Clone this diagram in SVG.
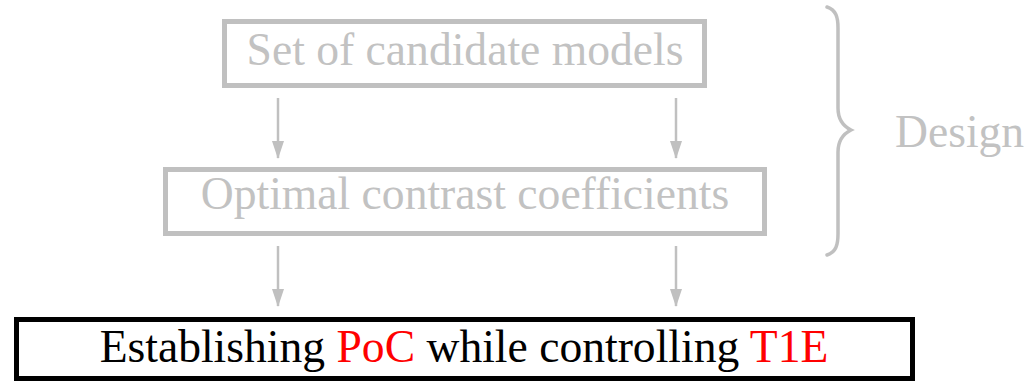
<svg xmlns="http://www.w3.org/2000/svg" width="1025" height="381" viewBox="0 0 1025 381">
<style>
  .box { fill: #ffffff; stroke-width: 5; }
  .grey { stroke: #c0c0c0; }
  .txt { font-family: "Liberation Serif", "Times New Roman", serif; font-size: 45.6px; text-anchor: middle; }
  .gtxt { fill: #c2c2c2; }
  .btxt { fill: #000000; }
  .red { fill: #ff0000; }
  .conn { stroke: #c0c0c0; stroke-width: 2.5; fill: none; }
</style>
<defs>
  <marker id="ah" viewBox="0 0 18 12" refX="17" refY="6" markerWidth="18" markerHeight="12" markerUnits="userSpaceOnUse" orient="auto">
    <path d="M0,0 L18,6 L0,12 Z" fill="#c0c0c0"/>
  </marker>
</defs>
<rect width="1025" height="381" fill="#ffffff"/>
<g id="node-candidate-models">
  <rect class="box grey" x="224.5" y="21.5" width="480" height="64"/>
  <text class="txt gtxt" x="465" y="65">Set of candidate models</text>
</g>
<g id="node-contrast-coefficients">
  <rect class="box grey" x="165.5" y="169.5" width="599" height="64"/>
  <text class="txt gtxt" x="465" y="209">Optimal contrast coefficients</text>
</g>
<g id="node-poc">
  <rect class="box" stroke="#000000" x="16.5" y="319.5" width="896" height="59"/>
  <text class="txt btxt" x="464" y="362">Establishing <tspan class="red">PoC</tspan> while controlling <tspan class="red">T1E</tspan></text>
</g>
<g id="node-design">
  <path d="M827,7 C836,10 838,17 838,28 L838,108 C838,120 843,126 851,130 C843,134 838,140 838,152 L838,234 C838,245 836,252 827,255" fill="none" stroke="#c0c0c0" stroke-width="3.5" stroke-linecap="round"/>
  <text class="txt gtxt" x="895" y="147" style="text-anchor:start">Design</text>
</g>
<g id="connectors">
  <line class="conn" x1="278" y1="98" x2="278" y2="158" marker-end="url(#ah)"/>
  <line class="conn" x1="676" y1="98" x2="676" y2="158" marker-end="url(#ah)"/>
  <line class="conn" x1="278" y1="246" x2="278" y2="306" marker-end="url(#ah)"/>
  <line class="conn" x1="676" y1="246" x2="676" y2="306" marker-end="url(#ah)"/>
</g>
</svg>
